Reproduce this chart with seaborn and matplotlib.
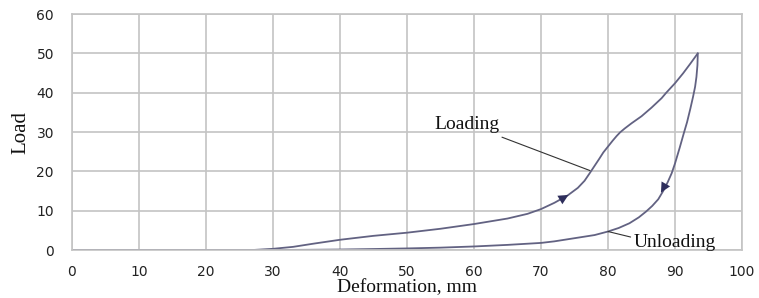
import matplotlib
matplotlib.use("Agg")
import matplotlib.pyplot as plt
import seaborn as sns
import pandas as pd

# Data
loading_x = [0, 27, 30, 33, 36, 40, 45, 50, 55, 60, 65, 68, 70, 72, 74, 75.5, 76.5, 77.3, 78.0, 78.7,
             79.3, 80.0, 80.7, 81.3, 81.8, 82.5, 83.5, 85, 86.5, 88, 88.7, 90, 91.2, 92.3, 93.4]
loading_y = [0, 0, 0.3, 0.8, 1.6, 2.6, 3.6, 4.4, 5.4, 6.6, 8.0, 9.2, 10.4, 12.0, 13.9, 15.8, 17.6, 19.6, 21.4, 23.2,
             24.8, 26.3, 27.8, 29.0, 29.9, 30.9, 32.2, 34.0, 36.2, 38.6, 40.0, 42.4, 44.9, 47.4, 50.0]

unloading_x = [93.4, 93.35, 93.2, 93.0, 92.7, 92.3, 91.8, 91.3, 90.7, 90.0, 89.5, 88.9, 88.2, 87.5, 86.6,
               85.7, 84.6, 83.2, 81.6, 80.0, 78, 75, 72, 70, 65, 60, 55, 50, 45, 40, 35, 30, 0]
unloading_y = [50, 47, 44, 41.5, 39, 36, 32.5, 29.6, 26, 22, 19.5, 17.2, 14.9, 12.9, 11.2,
               9.8, 8.3, 6.8, 5.6, 4.7, 3.8, 3.0, 2.2, 1.8, 1.3, 0.9, 0.6, 0.4, 0.25, 0.12, 0.05, 0.0, 0]

# arrow (tail, head) positions along the curves
arrow_tail = [(72.3, 12.2), (89.1, 18.2)]
arrow_head = [(74.1, 14.0), (87.9, 14.6)]

x_ticks = [0, 10, 20, 30, 40, 50, 60, 70, 80, 90, 100]
y_ticks = [0, 10, 20, 30, 40, 50, 60]

df_load = pd.DataFrame({"x": loading_x, "y": loading_y})
df_unload = pd.DataFrame({"x": unloading_x, "y": unloading_y})

sns.set_theme(style="white")
plt.rcParams["font.family"] = ["DejaVu Sans"]

fig, ax = plt.subplots(figsize=(7.59, 2.98), dpi=100)
fig.subplots_adjust(left=72/759, right=742/759, bottom=1-250/298, top=1-14/298)

line_c = "#626282"
sns.lineplot(data=df_load, x="x", y="y", sort=False, ax=ax, color=line_c, lw=1.3)
sns.lineplot(data=df_unload, x="x", y="y", sort=False, ax=ax, color=line_c, lw=1.3)

for t, h in zip(arrow_tail, arrow_head):
    ax.annotate("", xy=h, xytext=t,
                arrowprops=dict(arrowstyle="-|>,head_length=0.65,head_width=0.32", color="#2e2e5c",
                                lw=0.01, mutation_scale=11, shrinkA=0, shrinkB=0))

ax.set_xlim(0, 100)
ax.set_ylim(0, 60)
ax.set_xticks(x_ticks)
ax.set_yticks(y_ticks)
ax.tick_params(axis="x", length=0, labelsize=10, colors="#222222", pad=11)
ax.tick_params(axis="y", length=0, labelsize=10, colors="#222222", pad=13)
ax.grid(True, color="#c4c4c4", lw=1.2)
for s in ax.spines.values():
    s.set_color("#c4c4c4")
    s.set_linewidth(1.2)

ax.set_xlabel("Deformation, mm", fontfamily="Liberation Serif", fontsize=14, color="#111111", labelpad=0)
ax.set_ylabel("Load", fontfamily="Liberation Serif", fontsize=15, color="#111111", labelpad=4)

ax.annotate("Loading", xy=(77.3, 20.2), xytext=(59.0, 31.8), ha="center", va="center",
            fontfamily="Liberation Serif", fontsize=14, color="#111111",
            arrowprops=dict(arrowstyle="-", color="#333333", lw=0.8, shrinkA=1, shrinkB=0,
                            relpos=(0.88, 0.0)))
ax.annotate("Unloading", xy=(80.0, 4.7), xytext=(90.0, 1.8), ha="center", va="center",
            fontfamily="Liberation Serif", fontsize=14, color="#111111",
            arrowprops=dict(arrowstyle="-", color="#333333", lw=0.8, shrinkA=0, shrinkB=0,
                            relpos=(0.0, 0.8)))

fig.savefig("out.png", dpi=100)
